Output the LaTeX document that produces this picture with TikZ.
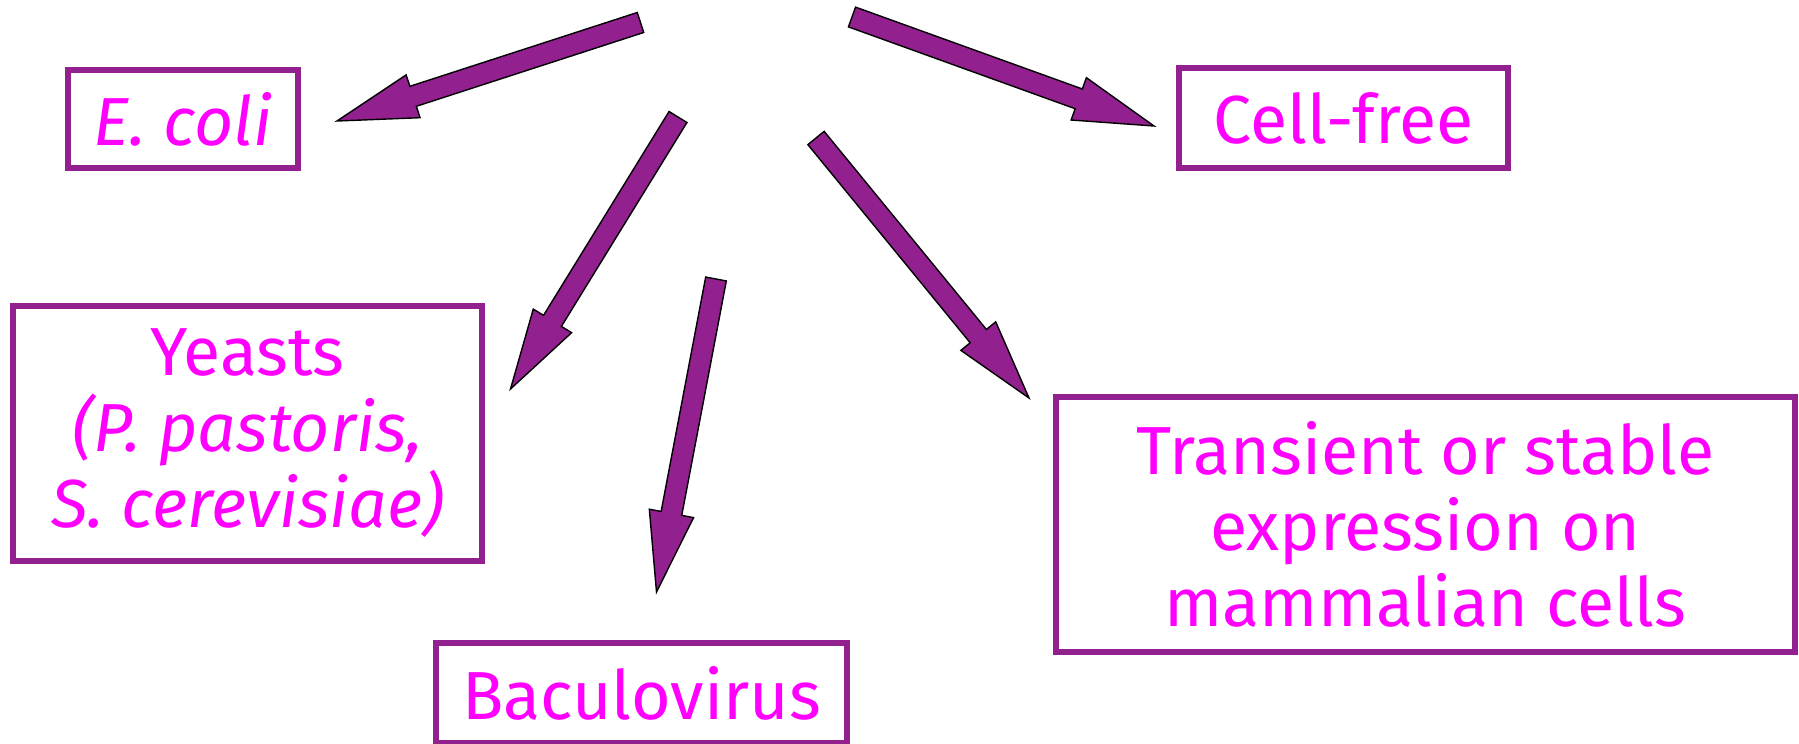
\documentclass[tikz,border=0pt]{standalone}
\usepackage{fontspec}
\setmainfont{Fira Sans}
\usetikzlibrary{calc}
\definecolor{framepurple}{RGB}{147,32,143}
\definecolor{labelpink}{RGB}{255,0,255}
\newcommand{\labelfont}{\fontsize{68}{76}\selectfont}

% Block arrow from tail coordinate #1 to tip coordinate #2; #3 names the head base.
\newcommand{\blockarrow}[3]{%
  \path ($(#2)!80pt!(#1)$) coordinate (#3);
  \draw[arrowbody]
    ($(#1)!10.5pt!90:(#2)$) -- ($(#3)!10.5pt!90:(#2)$) -- ($(#3)!22.5pt!90:(#2)$)
    -- (#2)
    -- ($(#3)!22.5pt!-90:(#2)$) -- ($(#3)!10.5pt!-90:(#2)$) -- ($(#1)!10.5pt!-90:(#2)$)
    -- cycle;}

\begin{document}
\begin{tikzpicture}[x=1pt,y=-1pt,
  box/.style={draw=framepurple, line width=6pt, rectangle, inner sep=0pt,
    align=center, text=labelpink, font=\labelfont},
  arrowbody/.style={fill=framepurple, draw=black, line width=1.4pt, line join=miter}]

\fill[white] (0,0) rectangle (1799,744);
\useasboundingbox (0,0) rectangle (1799,744);

% expression systems
\node[box, minimum width=230pt, minimum height=98pt] (ecoli) at (183,119) {\itshape E. coli};
\node[box, minimum width=329pt, minimum height=100pt] (cellfree) at (1343.5,118) {Cell-free};
\node[box, minimum width=469pt, minimum height=255pt] (yeasts) at (247.5,433.5)
  {Yeasts\\{\itshape (P. pastoris,}\\{\itshape S. cerevisiae)}};
\node[box, minimum width=411pt, minimum height=100pt] (baculo) at (641.5,693) {Baculovirus};
\node[box, minimum width=739pt, minimum height=255pt] (mammal) at (1425.5,524.5)
  {Transient or stable\\expression on\\mammalian cells};

% arrow ends
\coordinate (ecoliTail) at (640.5,22.5);   \coordinate (ecoliTip) at (337,121);
\coordinate (cellTail) at (852,17);        \coordinate (cellTip) at (1154,126);
\coordinate (yeastTail) at (678,117);      \coordinate (yeastTip) at (510.5,389);
\coordinate (baculoTail) at (716,279);     \coordinate (baculoTip) at (656.5,592);
\coordinate (mammalTail) at (816,138);     \coordinate (mammalTip) at (1029,398);

\blockarrow{ecoliTail}{ecoliTip}{ecoliHead}
\blockarrow{cellTail}{cellTip}{cellHead}
\blockarrow{yeastTail}{yeastTip}{yeastHead}
\blockarrow{baculoTail}{baculoTip}{baculoHead}
\blockarrow{mammalTail}{mammalTip}{mammalHead}
\end{tikzpicture}
\end{document}
